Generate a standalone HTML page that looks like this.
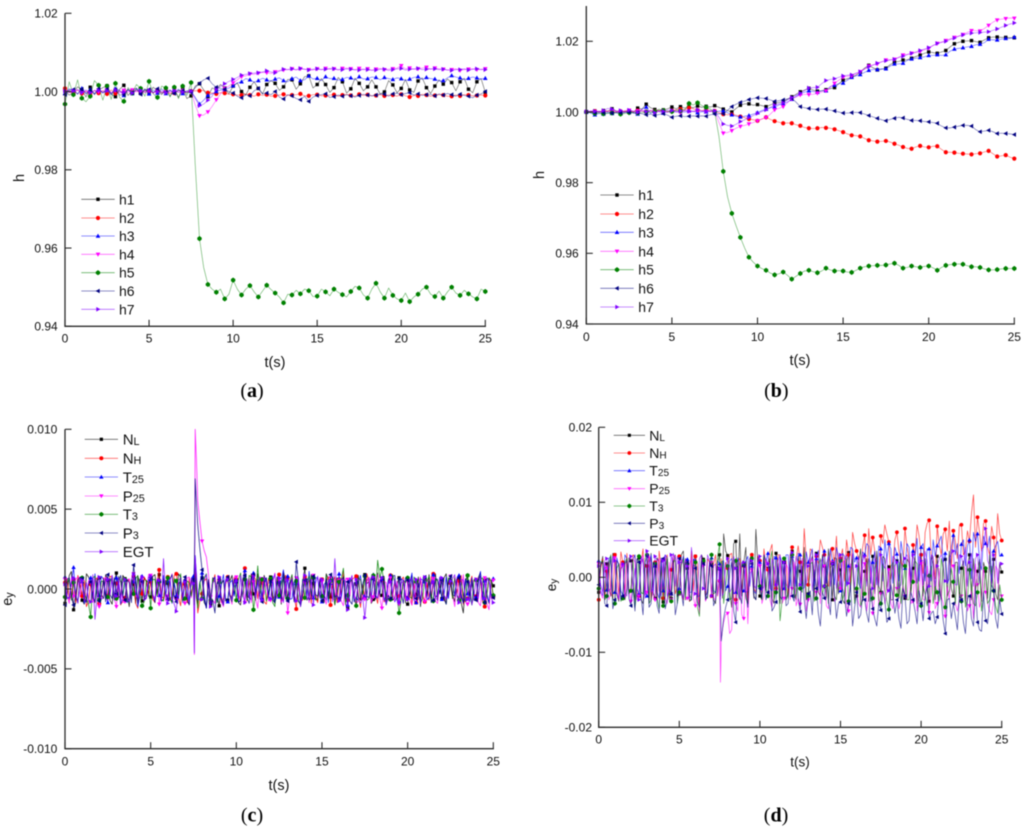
<!DOCTYPE html>
<html lang="en">
<head>
<meta charset="utf-8">
<title>Four-panel h and e_y charts</title>
<style>
html,body{margin:0;padding:0;background:#fff;width:1024px;height:830px;overflow:hidden}
svg{display:block;filter:blur(0.4px)}
text{font-family:"Liberation Sans",Arial,sans-serif;fill:#111}
.cap{font-family:"Liberation Serif","Times New Roman",serif;fill:#000}
</style>
</head>
<body>
<svg id="figure" width="1024" height="830" viewBox="0 0 1024 830" xmlns="http://www.w3.org/2000/svg"></svg>
<script>
/* ---------- shared axis data ---------- */
const tTicks = [0, 5, 10, 15, 20, 25];
const hTicksLabels = ['0.94', '0.96', '0.98', '1.00', '1.02'];
const hTicks = [0.94, 0.96, 0.98, 1.00, 1.02];
const eTicksC = [-0.010, -0.005, 0, 0.005, 0.010];
const eLabelsC = ['-0.010', '-0.005', '0.000', '0.005', '0.010'];
const eTicksD = [-0.02, -0.01, 0, 0.01, 0.02];
const eLabelsD = ['-0.02', '-0.01', '0.00', '0.01', '0.02'];
const hNames = ['h1', 'h2', 'h3', 'h4', 'h5', 'h6', 'h7'];
const eMain = ['N', 'N', 'T', 'P', 'T', 'P', 'EGT'];
const eSub = ['L', 'H', '25', '25', '3', '3', ''];
const seriesColors = ['#000000', '#ff0000', '#0000ff', '#ff00ff', '#008000', '#000080', '#8000ff'];

/* sample times: panels a and b */
const timesH = [
0,.25,.5,.75,1,1.25,1.5,1.75,2,2.25,
2.5,2.75,3,3.25,3.5,3.75,4,4.25,4.5,4.75,
5,5.25,5.5,5.75,6,6.25,6.5,6.75,7,7.25,
7.5,7.75,8,8.25,8.5,8.75,9,9.25,9.5,9.75,
10,10.25,10.5,10.75,11,11.25,11.5,11.75,12,12.25,
12.5,12.75,13,13.25,13.5,13.75,14,14.25,14.5,14.75,
15,15.25,15.5,15.75,16,16.25,16.5,16.75,17,17.25,
17.5,17.75,18,18.25,18.5,18.75,19,19.25,19.5,19.75,
20,20.25,20.5,20.75,21,21.25,21.5,21.75,22,22.25,
22.5,22.75,23,23.25,23.5,23.75,24,24.25,24.5,24.75,
25];
/* sample times: panels c and d (a *_m array holds the reading midway between two of these) */
const timesE = [
0,.25,.5,.75,1,1.25,1.5,1.75,2,2.25,
2.5,2.75,3,3.25,3.5,3.75,4,4.25,4.5,4.75,
5,5.25,5.5,5.75,6,6.25,6.5,6.75,7,7.25,
7.5,7.55,7.6,7.75,8,8.25,8.5,8.75,9,9.25,
9.5,9.75,10,10.25,10.5,10.75,11,11.25,11.5,11.75,
12,12.25,12.5,12.75,13,13.25,13.5,13.75,14,14.25,
14.5,14.75,15,15.25,15.5,15.75,16,16.25,16.5,16.75,
17,17.25,17.5,17.75,18,18.25,18.5,18.75,19,19.25,
19.5,19.75,20,20.25,20.5,20.75,21,21.25,21.5,21.75,
22,22.25,22.5,22.75,23,23.25,23.5,23.75,24,24.25,
24.5,24.75,25];

/* ---------- panel a: h deviation from 1, in units of 0.0001 ---------- */
const a_h1 = [
2,-9,-3,12,5,-14,11,-8,4,10,
15,-7,-13,6,16,-10,3,9,-5,7,
-4,11,2,-8,6,-12,5,-15,8,-18,
-11,14,20,4,-13,9,5,18,9,-6,
14,22,0,-9,11,25,8,-6,18,28,
21,3,12,31,30,6,20,38,40,9,
18,33,18,-2,10,36,25,-4,7,34,
21,2,12,30,12,-6,-1,28,17,-3,
8,31,4,-2,27,35,10,-5,14,30,
19,32,23,2,25,34,6,-3,25,33,
-2];
const a_h2 = [
8,-2,-3,4,-5,1,-6,3,-4,2,
-6,4,-5,2,-3,5,-2,3,-4,1,
2,-4,3,-3,2,-5,-4,3,-1,-2,
1,2,2,3,-3,-4,-6,-3,-4,-7,
-7,-9,-9,-6,-9,-12,-7,-10,-8,-12,
-11,-9,-7,-10,-9,-8,-6,-11,-11,-8,
-8,-11,-10,-9,-8,-12,-9,-7,-10,-12,
-7,-10,-8,-11,-10,-8,-11,-9,-9,-12,
-7,-11,-14,-10,-11,-7,-9,-12,-10,-8,
-9,-12,-12,-9,-11,-8,-9,-11,-10,-9,
-10];
const a_h3 = [
-5,7,3,-6,8,-4,5,-7,6,-3,
4,-8,7,3,-10,6,-5,8,-3,5,
-6,4,-4,7,-5,3,-3,6,-5,2,
1,-15,-32,-22,-10,-6,0,4,5,9,
15,22,25,33,30,24,28,34,30,27,
32,35,28,25,33,37,28,30,40,32,
34,28,38,33,34,29,31,36,35,30,
38,32,33,37,36,30,36,33,31,35,
33,28,32,36,38,31,36,33,32,27,
28,35,41,37,35,30,34,37,35,32,
34];
const a_h4 = [
0,3,-2,4,-3,2,-4,3,-1,2,
5,-3,2,-4,3,-2,4,-1,2,-3,
2,-4,3,-2,1,-3,2,-2,3,-1,
0,-35,-62,-60,-52,-38,-21,-6,8,14,
22,30,38,40,45,44,47,49,48,46,
50,54,55,56,58,55,58,57,56,55,
58,56,59,57,58,55,59,60,58,56,
59,56,58,55,57,59,56,57,58,60,
66,58,60,57,58,60,62,57,60,58,
57,55,56,58,54,56,57,58,56,57,
58];
const a_h5 = [
-32,25,-8,30,-17,-26,-12,28,16,-22,
14,-20,21,-15,-25,10,-4,18,8,-12,
26,-6,-15,14,9,-14,11,-18,14,-10,
23,-190,-376,-450,-493,-505,-513,-505,-530,-518,
-482,-505,-520,-505,-496,-512,-525,-510,-495,-506,
-515,-525,-540,-518,-520,-508,-517,-505,-509,-524,
-523,-505,-512,-522,-505,-513,-519,-525,-511,-498,
-502,-520,-528,-505,-490,-512,-528,-502,-521,-530,
-534,-515,-537,-525,-518,-505,-500,-518,-524,-510,
-528,-512,-500,-515,-521,-508,-517,-525,-530,-505,
-511];
const a_h6 = [
-8,4,5,-7,6,-6,3,-5,7,-3,
6,-6,4,-9,-8,5,-4,6,-7,4,
5,-3,7,-4,-2,4,-5,3,2,-3,
-2,10,21,30,34,20,11,8,6,0,
-4,-12,-16,-8,-11,2,8,-6,-4,-8,
0,-14,-19,-8,-11,-18,-21,-12,-25,-14,
-10,-8,-6,-15,-13,-9,-12,-8,-11,-14,
-10,-7,-9,-11,-9,-6,-7,-12,-6,-4,
-8,-5,-3,-9,-6,-10,-8,-7,-11,-6,
-9,-5,-8,-12,-7,-10,-12,-16,-9,-6,
0];
const a_h7 = [
1,-3,2,5,-2,4,-3,2,3,-4,
2,-3,4,-1,-2,3,-4,2,3,-2,
3,-2,-1,2,-3,1,2,-2,-1,1,
1,-18,-36,-32,-22,-12,5,13,20,26,
31,36,42,44,46,47,48,50,53,50,
48,52,57,56,58,56,59,57,55,57,
58,56,57,59,58,56,56,58,57,55,
55,57,56,54,55,57,57,54,56,58,
59,55,57,58,59,56,57,58,58,56,
57,55,54,56,56,58,55,57,58,56,
56];

/* ---------- panel b: h deviation from 1, in units of 0.0001 ---------- */
const b_h1 = [
0,1,3,0,4,2,9,3,0,2,
3,-1,11,8,22,12,7,4,6,9,
14,9,15,11,14,12,17,13,16,14,
18,13,8,4,0,10,19,23,23,19,
21,18,15,20,25,27,29,36,43,50,
57,62,67,62,59,60,63,66,69,80,
90,94,98,104,113,124,132,125,119,121,
124,134,141,143,147,148,152,157,161,166,
170,168,166,170,174,184,193,197,200,201,
202,199,197,204,210,212,212,211,211,210,
210];
const b_h2 = [
0,1,2,0,1,3,1,0,2,1,
3,1,4,2,1,3,2,4,3,1,
4,6,8,6,12,9,5,4,6,3,
3,-2,-6,-8,-7,-9,-13,-16,-20,-22,
-25,-20,-15,-21,-26,-29,-32,-31,-32,-36,
-39,-44,-46,-47,-46,-44,-45,-46,-49,-53,
-57,-62,-66,-67,-69,-75,-80,-82,-84,-83,
-82,-85,-90,-94,-99,-103,-104,-99,-96,-99,
-100,-97,-97,-106,-114,-114,-115,-117,-118,-119,
-120,-118,-117,-113,-110,-118,-126,-124,-122,-128,
-132];
const b_h3 = [
0,-3,-8,-4,-6,-3,-4,-2,-5,-1,
2,-3,-6,8,14,-4,2,1,-3,-1,
3,1,2,0,3,2,-2,1,0,2,
0,2,3,-2,-8,-12,-14,-12,-10,-6,
-2,4,8,12,14,20,24,28,36,44,
52,56,60,58,56,60,60,72,76,80,
82,90,98,102,106,112,118,120,120,122,
122,130,136,136,138,146,150,152,154,156,
160,160,162,160,162,172,178,180,182,184,
186,190,192,196,206,204,204,206,208,208,
212];
const b_h4 = [
0,2,1,3,-1,2,3,1,0,4,
5,2,3,6,0,5,2,1,3,-1,
2,3,-3,4,1,2,4,3,2,1,
2,-30,-60,-58,-53,-46,-41,-38,-34,-30,
-25,-20,-16,-6,6,10,15,26,37,42,
48,50,49,50,53,56,60,70,81,90,
98,101,102,108,114,122,130,133,136,142,
147,148,149,155,161,163,166,168,171,176,
180,188,194,198,202,207,211,215,219,225,
230,230,229,236,245,254,260,263,264,266,
265];
const b_h5 = [
0,-2,-4,-3,-5,-4,-3,-2,-6,-4,
-2,-1,-3,-2,0,-1,1,8,4,2,
1,5,3,6,24,20,26,18,13,8,
0,-70,-168,-240,-287,-322,-355,-385,-411,-425,
-436,-443,-448,-456,-461,-458,-453,-462,-473,-465,
-457,-450,-448,-452,-455,-450,-442,-447,-450,-449,
-450,-453,-454,-448,-442,-438,-436,-435,-434,-434,
-433,-430,-428,-434,-442,-440,-436,-438,-440,-437,
-436,-441,-448,-440,-434,-432,-431,-430,-431,-435,
-438,-438,-440,-444,-447,-447,-446,-444,-443,-443,
-443];
const b_h6 = [
0,-1,-2,1,-2,0,-3,-1,-2,-1,
-1,-3,-2,-5,-8,-6,-10,-7,-5,-9,
-15,-12,-11,-13,-12,-11,-12,-11,-12,-8,
-6,-5,-5,5,15,22,27,31,35,38,
40,39,38,34,30,32,34,37,39,28,
15,12,10,8,7,8,8,5,3,0,
-3,-3,-2,-1,-2,-6,-10,-14,-18,-22,
-25,-21,-18,-15,-17,-21,-24,-24,-25,-27,
-28,-30,-32,-40,-45,-45,-43,-40,-38,-38,
-40,-50,-56,-54,-52,-56,-61,-60,-61,-62,
-64];
const b_h7 = [
1,3,2,-1,4,10,8,2,4,-1,
5,2,-1,3,1,4,-2,3,2,5,
4,-1,3,5,2,1,6,3,2,4,
3,-15,-34,-38,-40,-35,-27,-22,-16,-10,
-4,1,6,13,20,23,26,34,41,47,
53,61,68,69,70,80,89,92,94,98,
102,104,105,110,114,121,128,133,138,142,
145,147,149,154,158,162,166,170,174,178,
182,188,194,197,200,205,209,214,218,221,
223,224,225,226,227,231,235,240,245,249,
252];

/* ---------- panel c: e_y in units of 0.00001 ---------- */
const c_NL = [
-90,85,-130,60,-70,95,40,-85,70,-60,
55,-95,100,-40,65,-110,30,80,-75,45,
-50,90,90,-65,35,-85,-60,75,50,-95,
40,-60,130,-90,70,-110,-95,60,-105,55,
-70,85,45,-100,60,-55,-30,95,-65,40,
75,-90,30,110,-60,70,50,-85,130,-45,
35,-75,60,95,-50,-100,40,80,-120,55,
30,-70,90,45,-65,100,-40,-85,60,-55,
70,50,-95,85,-35,-110,60,90,40,-75,
-60,95,45,-80,70,-150,85,40,-65,105,
55,-90,20];
const c_NL_m = [
-40,110,-85,30,-95,75,-60,50,-35,90,
-70,45,-55,85,-25,60,-90,35,70,-45,
80,-30,-75,55,-60,40,95,-50,-80,65,
-30,45,-50,40,-85,55,70,-40,30,-75,
50,-35,-85,65,-45,95,-70,40,85,-60,
-40,75,-95,50,30,-65,-80,45,-70,90,
-55,40,-85,60,30,70,-45,-95,50,-35,
85,-60,35,-90,40,-45,80,55,-70,30,
-50,-85,40,-60,75,45,-40,-65,95,30,
70,-55,-35,60,-85,50,-60,-30,70,-45,
-40,55];
const c_NH = [
40,-70,60,85,-45,-110,30,55,-90,70,
-40,75,35,-100,-55,60,80,-120,-30,50,
45,-85,120,-60,75,-40,95,-105,30,70,
45,-70,110,-150,-30,65,-75,90,55,-60,
75,-45,60,-80,130,50,85,-60,40,-95,
60,-50,90,-75,70,80,-125,-65,75,55,
70,-85,60,45,-100,75,60,110,-70,60,
80,-115,-55,35,70,-90,55,-60,85,40,
-45,75,-55,-100,-85,65,-80,-70,95,-40,
60,-85,35,75,50,-95,-60,80,-45,55,
-110,70,-50];
const c_NH_m = [
65,-35,-85,40,55,-75,-30,70,-50,-45,
80,-60,30,-75,45,-40,-90,60,75,-30,
-65,50,-45,35,-70,85,-55,40,-85,-35,
60,-50,40,-70,50,-40,35,-65,-85,30,
-45,70,-30,55,-75,-40,60,45,-80,65,
-55,40,-35,85,-60,-35,50,-70,30,-90,
-45,60,-30,75,45,-85,-35,-60,50,70,
-40,30,95,-55,-35,60,-80,45,-45,-65,
55,-45,60,35,-60,-40,40,75,-50,30,
-70,45,-60,-30,85,-65,35,-45,60,-80,
-30,45];
const c_T25 = [
75,-50,135,-80,45,-60,70,95,-40,60,
-85,40,70,-95,55,-60,45,-110,80,-35,
60,-70,-40,85,50,-90,-40,65,55,-75,
80,150,210,-70,100,-120,-60,75,-45,90,
-80,55,60,-75,115,-50,100,35,-60,70,
45,-85,-50,120,80,-60,35,-95,50,110,
-55,70,-80,45,35,-75,95,60,-100,40,
-60,85,-45,70,90,-55,60,-40,85,-80,
-75,50,-55,100,-85,65,45,-60,90,-35,
-65,75,55,-40,85,-90,-30,70,-50,110,
50,-85,65];
const c_T25_m = [
-60,45,-40,70,-90,35,-55,-45,80,-30,
65,-70,30,-50,-85,45,75,-40,-55,60,
-35,55,-75,-45,70,40,-60,-85,30,50,
45,190,60,40,-60,40,55,-85,30,-65,
40,-45,-80,60,-30,-70,-40,75,30,-55,
80,-35,55,-40,-65,45,-75,60,-45,-30,
70,-50,30,-85,65,-35,-60,-45,70,-80,
40,-35,55,-60,-45,35,-70,60,-30,-50,
65,-40,35,-70,-30,55,-65,40,-55,75,
-35,-60,45,70,-30,60,-80,-45,35,-70,
-30,40];
const c_P25 = [
60,-90,-45,75,65,-80,40,70,-110,55,
-60,85,-110,50,-80,65,95,-70,70,-40,
85,-55,-95,60,-45,95,-70,50,-90,75,
40,-410,1000,550,300,200,-50,-90,70,-110,
60,-95,75,-50,-85,70,45,-120,65,50,
-70,100,60,-55,-150,85,70,-100,40,-85,
85,-60,45,-95,70,-75,55,-105,60,80,
-85,55,-65,75,-50,90,-120,40,70,-75,
-95,60,45,-100,-65,75,-80,55,65,-90,
50,-70,80,-110,-55,90,-95,40,60,-105,
70,-130,55];
const c_P25_m = [
-45,70,60,-50,-70,55,-85,30,-40,75,
-35,-60,40,-85,55,-45,-35,60,-75,90,
-40,65,-30,-75,50,-60,35,-45,70,-55,
-120,300,800,420,240,90,-70,40,-80,35,
-50,75,-45,60,30,-85,-60,70,-35,-75,
40,-55,-85,35,-40,-70,55,-35,60,45,
-35,70,-55,40,-60,30,-75,65,-45,-30,
60,-40,50,-85,55,-60,45,-75,-35,50,
-30,-65,-70,50,40,-55,60,-35,-75,65,
-45,55,-40,70,-30,-75,-50,55,-85,45,
-90,40];
const c_T3 = [
-50,65,40,-85,70,-60,-175,80,-70,45,
-50,75,-60,45,60,-90,-30,85,-105,55,
-120,60,45,-75,70,-85,50,95,-60,40,
55,-100,80,-120,-60,95,-70,45,40,-90,
60,-80,-70,100,60,85,-130,145,60,-75,
65,-110,-40,75,-60,90,50,-105,-55,80,
70,-60,-45,85,50,-95,45,130,-40,60,
-105,60,80,-60,85,180,125,-70,-65,40,
-150,55,70,-60,45,-90,65,80,-75,50,
60,-95,55,70,-70,-40,85,-100,55,60,
-85,70,-40];
const c_T3_m = [
40,-70,-45,60,-30,-95,70,-55,50,-60,
45,-50,80,-35,-70,55,65,-40,-80,35,
60,-45,-70,30,-60,65,-35,-75,50,-45,
-50,30,-60,45,70,-30,60,-85,-55,50,
-45,40,60,-50,-70,75,-35,-45,65,-30,
-85,55,35,-60,45,-35,-75,60,50,-40,
-70,35,-50,-65,75,-30,60,-85,40,-55,
65,-35,-70,50,-45,70,35,-60,90,-40,
-65,40,-50,75,-35,-60,45,-40,65,-30,
-45,70,-60,-35,50,-80,-30,60,-45,70,
-35,50];
const c_P3 = [
-100,70,-100,55,65,-85,45,-75,-75,60,
90,-60,-30,85,-70,40,150,-90,45,-55,
70,-85,50,65,-65,90,-80,45,75,-100,
60,150,690,400,120,-120,-85,-150,60,-100,
75,-60,45,-70,85,-90,90,60,-80,70,
50,-85,40,95,-75,60,170,-110,55,-70,
80,-45,-75,65,90,-50,-60,75,45,-95,
40,-70,85,-55,60,45,70,-100,-60,85,
65,-90,55,70,-60,-80,75,50,-70,60,
55,-95,80,-45,70,-85,45,60,-70,80,
-85,60,-55];
const c_P3_m = [
60,-50,-40,75,-60,30,-55,60,-40,-80,
-35,70,50,-45,60,-85,40,65,-70,30,
-40,55,-75,-30,60,-45,35,-70,-55,70,
-60,320,540,250,-30,60,-70,35,-65,50,
-35,60,-85,40,-55,70,-30,-60,45,-40,
-70,50,-60,-35,40,-80,45,-30,65,-50,
-35,60,-55,-45,70,-40,55,-60,-75,40,
-50,30,-45,75,-65,-35,50,-40,80,-55,
-30,70,-45,-60,35,40,-55,-85,65,-30,
-60,40,-35,60,-50,65,-45,-70,55,-35,
70,-30];
const c_EGT = [
30,-60,70,-90,55,40,-80,-190,75,-50,
60,85,-45,-70,60,-85,90,-55,75,-60,
80,-70,55,190,-90,-60,-140,70,45,-85,
35,-400,200,-50,-65,90,-110,60,75,-95,
60,-75,50,85,-85,-60,80,55,-70,45,
-60,95,70,-85,55,60,-75,-110,85,-45,
-100,80,60,-70,50,190,-75,60,-130,85,
60,-90,-180,50,75,-60,70,-95,45,60,
-85,55,-65,70,60,-90,75,-50,45,-70,
70,-60,50,90,-85,55,-65,-100,60,75,
-60,45,-85];
const c_EGT_m = [
-55,45,-30,65,-60,-70,90,-40,-65,60,
-35,-45,75,40,-55,65,-30,45,-70,75,
-45,60,-80,-40,70,-95,55,-60,-35,70,
-150,-80,90,-70,55,-40,35,-60,-45,60,
-30,45,-70,-40,65,55,-60,-35,75,-55,
50,-45,-30,65,-60,-35,70,40,-65,60,
35,-55,-35,60,-80,-45,60,50,40,-60,
-70,-50,-40,70,-35,55,-60,40,-30,-75,
35,-45,60,-65,-30,50,-70,45,-55,70,
-40,-35,65,-45,60,-75,45,-40,-60,-35,
65,-55];

/* ---------- panel d: e_y in units of 0.0001 ---------- */
const d_NL = [
-20,28,18,-25,30,-32,18,-15,22,-30,
26,-35,15,32,-28,20,-33,25,-28,30,
-22,35,12,-30,28,-38,24,-20,18,-35,
30,-25,20,58,29,-40,48,58,19,-30,
26,64,-25,30,12,-28,32,-35,20,-20,
35,-30,8,40,-22,28,32,-25,15,38,
-30,25,10,-35,33,30,-25,38,8,-32,
28,35,-20,25,14,-30,22,32,-28,20,
12,-35,30,25,-32,18,28,-30,24,35,
-25,20,12,-35,30,25,8,-32,8,30,
24,-30,7];
const d_NL_m = [
14,-28,-15,32,-24,10,-30,26,-12,24,
-30,18,-34,-20,26,-28,12,-22,16,-26,
30,-15,-32,22,-18,30,-25,15,-30,20,
-15,10,-28,35,-20,45,-15,-25,40,20,
-28,15,-30,-18,25,-35,18,22,-30,15,
-22,28,-12,-30,18,-25,-20,30,-28,12,
26,-22,-30,18,-15,-28,20,-32,25,12,
-22,-12,28,-18,-30,15,-28,-15,24,-20,
28,15,-25,-18,28,-30,-12,22,-25,-15,
20,-28,22,15,-30,-18,24,20,-28,-12,
-22,18];
const d_NH = [
-30,25,8,-20,30,-25,20,32,-18,28,
-25,38,15,-30,20,35,-28,30,10,-22,
28,-30,18,35,28,-45,20,25,-25,30,
-5,-20,25,-15,12,32,-30,25,15,-35,
30,-20,22,38,10,44,-15,30,20,-25,
40,25,20,65,-10,35,28,50,30,-12,
38,55,25,-5,30,60,35,-8,56,65,
53,10,55,70,47,15,60,20,65,25,
43,70,30,60,76,25,68,30,64,75,
62,25,70,35,48,110,80,35,75,30,
53,85,49];
const d_NH_m = [
12,-30,22,-28,10,34,-22,-18,30,-20,
18,-24,28,-14,-30,15,20,-28,28,-12,
-20,22,-32,-18,18,15,-30,20,18,-25,
10,5,-22,20,30,-28,22,-20,18,25,
-15,28,-20,15,35,-10,30,-18,22,30,
-8,42,-5,22,38,-5,18,40,-8,30,
18,-5,38,50,-8,45,25,40,-5,30,
35,-8,45,58,-2,50,35,15,40,-5,
30,55,5,72,30,-2,45,58,35,12,
48,70,30,62,85,40,60,72,40,68,
25,58];
const d_T25 = [
22,-25,-17,28,-20,15,-24,25,-18,30,
-22,20,-25,30,15,-28,-18,26,-22,24,
-15,28,24,-20,22,-25,18,-16,26,-20,
18,10,-15,22,-12,25,-20,15,-18,28,
15,-22,20,30,32,-18,26,28,-15,30,
28,-12,30,-14,20,38,25,-20,35,18,
22,40,-18,28,15,38,26,-15,30,42,
20,-10,38,50,45,-8,31,48,12,40,
35,52,40,-5,38,50,42,55,32,-2,
56,45,44,15,50,60,58,10,45,55,
35,48,30];
const d_T25_m = [
-18,20,25,-22,26,-18,30,-20,24,-15,
28,-20,18,-24,-20,26,30,-18,32,-20,
18,-25,-20,24,-26,16,-28,20,-18,22,
-10,-12,18,-18,22,-22,26,-18,22,-12,
-18,26,-12,22,-15,28,-10,20,30,-12,
20,32,-15,34,28,-12,36,22,-8,38,
-10,28,32,-12,40,20,-8,34,45,-8,
35,42,-5,25,38,40,-5,30,45,-2,
28,-5,45,38,-5,28,48,20,-8,40,
30,5,50,42,-2,48,22,55,40,-5,
42,28];
const d_P25 = [
18,-28,12,-22,26,-30,15,22,-32,20,
-25,30,-20,18,-30,25,22,-35,-30,28,
-22,18,-28,25,-38,-48,15,-25,20,-30,
-5,-140,-85,-60,-48,-70,-35,20,-55,-62,
10,-30,15,-25,18,-40,-18,22,-28,12,
-15,-38,-36,18,-30,25,-20,-35,15,-42,
20,-28,-15,22,-45,12,-18,-40,18,-25,
-48,15,-22,-35,10,-42,-15,-30,-25,12,
-32,-45,18,-30,-47,10,-35,-25,-52,-30,
15,-45,-25,12,-38,-55,-10,-30,-20,-45,
-30,10,-25];
const d_P25_m = [
-22,20,-30,24,-20,18,-28,-18,25,-30,
22,-24,30,-25,22,-18,-28,20,30,-22,
24,-30,18,-28,-15,25,-32,22,-28,18,
-60,-120,-70,-50,-75,20,-45,-50,15,5,
-25,20,-35,22,-30,15,-10,-35,18,-30,
20,-28,22,-45,20,-30,18,15,-38,12,
-32,15,20,-40,18,-30,-35,12,-45,15,
-25,-38,12,-20,-35,15,-42,-10,-30,-35,
15,-25,-30,15,-20,-42,12,-35,-12,15,
-35,-30,15,-45,-18,18,-40,15,-35,-50,
15,-35];
const d_T3 = [
-15,22,-25,30,-35,18,-28,25,-18,-40,
28,-22,30,-30,18,-42,-38,25,-32,22,
-20,25,18,-30,20,-52,22,-28,30,-20,
44,-25,20,-35,15,-28,22,-30,16,-35,
25,-30,-12,28,-25,35,-20,-58,25,-28,
30,-22,-15,32,-25,20,-28,25,-12,-35,
18,-30,22,-20,-32,28,-15,-38,-22,25,
-28,22,-35,-15,-43,20,-24,-35,15,-30,
-6,18,-38,-22,2,-35,-20,25,-40,-18,
-6,15,-32,-40,10,-35,-20,-45,12,-30,
-18,-48,-30];
const d_T3_m = [
20,-30,18,-28,12,-32,20,-22,24,-18,
-20,25,-35,20,-28,15,-25,-30,22,-35,
16,-30,-22,18,-40,20,-25,15,-22,28,
-10,-15,22,-12,-30,18,-22,15,-28,20,
-25,12,-30,-15,22,-30,18,-30,-12,20,
-28,15,-20,-30,18,-32,15,-22,20,12,
-25,18,-30,25,-12,-35,20,-28,15,-32,
12,-30,18,-32,15,-25,20,-12,-30,-10,
22,-30,-12,-38,15,-12,-32,10,-25,12,
-35,-15,20,-30,-12,-38,18,-22,-35,15,
-38,-10];
const d_P3 = [
-10,20,-38,25,-30,18,-25,22,-38,-45,
20,-50,28,-35,15,-48,25,-30,-22,-50,
25,-38,20,-30,12,-40,18,-25,15,-30,
10,-40,-85,-55,-30,20,-60,-25,15,-40,
18,-30,-15,25,-20,-45,-33,-25,20,-35,
-25,15,-46,-30,-22,-50,-15,-65,-28,-30,
18,-55,-33,-25,-35,-65,-20,-50,-30,-60,
-42,-65,-44,-30,-55,-25,-30,-68,-25,-58,
-30,-62,-35,-25,-55,-45,-53,-30,-75,-28,
-35,-70,-30,-75,-25,-65,-60,-72,-58,-35,
-18,-68,-49];
const d_P3_m = [
18,-35,10,-42,22,-30,18,-28,-15,25,
-25,20,-40,20,-38,22,-42,-15,22,-35,
-20,25,-30,18,-32,22,-30,20,-38,15,
-30,-55,-70,-40,5,-45,15,-35,-20,25,
-25,15,-28,-30,15,-40,15,-30,-38,18,
-32,-28,15,-55,-18,10,-48,-20,15,-50,
-22,-35,-15,-52,-10,-40,-55,-25,-48,-15,
-55,-35,-18,-60,-10,-48,-55,-15,-62,-20,
-45,-18,-58,-12,-48,-62,-15,-58,-30,-55,
-52,-25,-60,-28,-55,-15,-70,-20,-62,-10,
-55,-30];
const d_EGT = [
15,-20,25,-15,22,-28,18,-25,28,12,
-30,25,35,-20,28,-18,22,-25,30,-12,
20,-28,15,40,-22,25,-15,30,-25,18,
12,-30,18,-20,25,-15,12,-28,20,-18,
22,-15,28,-12,18,25,-10,30,20,-15,
33,28,-10,25,15,-18,30,20,-12,28,
18,-15,30,22,-8,32,15,-12,28,25,
-15,22,30,12,-18,28,20,-10,25,18,
30,-8,22,35,-12,28,15,30,-5,25,
35,-10,28,40,20,-12,30,38,65,15,
30,-8,18];
const d_EGT_m = [
-10,22,-18,28,-20,12,-22,20,-15,-25,
18,-28,20,-15,22,-25,30,-18,15,28,
-18,25,-30,18,-22,30,-18,22,15,-24,
-15,10,-25,15,-20,28,-15,20,-20,25,
-10,18,-18,25,-15,12,22,-15,-8,30,
-12,18,25,-10,28,15,-15,25,18,-12,
22,15,-18,30,12,-15,28,22,-12,20,
25,-12,18,28,-10,25,-15,22,30,-8,
18,28,-10,22,30,-12,25,18,-8,32,
-10,30,15,-12,32,25,-8,40,22,-10,
25,20];

/* ---------- drawing ---------- */
const NS = 'http://www.w3.org/2000/svg';
const root = document.getElementById('figure');

function mk(tag, parent, attrs) {
  const node = document.createElementNS(NS, tag);
  for (const k in attrs) node.setAttribute(k, attrs[k]);
  parent.appendChild(node);
  return node;
}

function markerShape(parent, kind, cx, cy, color, s) {
  let node;
  const pts = arr => arr.map(p => (cx + p[0] * s).toFixed(2) + ',' + (cy + p[1] * s).toFixed(2)).join(' ');
  if (kind === 0) node = mk('rect', parent, {x: cx - 1.7 * s, y: cy - 1.7 * s, width: 3.4 * s, height: 3.4 * s, fill: color});
  else if (kind === 1) node = mk('circle', parent, {cx: cx, cy: cy, r: 2.1 * s, fill: color});
  else if (kind === 2) node = mk('polygon', parent, {points: pts([[0, -2.4], [2.3, 1.7], [-2.3, 1.7]]), fill: color});
  else if (kind === 3) node = mk('polygon', parent, {points: pts([[0, 2.4], [2.3, -1.7], [-2.3, -1.7]]), fill: color});
  else if (kind === 4) node = mk('polygon', parent, {points: pts([[0, -2.6], [2.2, -1], [2.2, 1], [0, 2.6], [-2.2, 1], [-2.2, -1]]), fill: color});
  else if (kind === 5) node = mk('polygon', parent, {points: pts([[-2.4, 0], [1.7, -2.3], [1.7, 2.3]]), fill: color});
  else node = mk('polygon', parent, {points: pts([[2.4, 0], [-1.7, -2.3], [-1.7, 2.3]]), fill: color});
  return node;
}

function drawPanel(p) {
  const g = mk('g', root, {});
  
  

  const xOf = t => p.x0 + (t - 0) / 25 * (p.x1 - p.x0);
  const yOf = v => p.yA + (v - p.vA) / (p.vB - p.vA) * (p.yB - p.yA);
  const ptStr = (t, v) => xOf(t).toFixed(2) + ',' + yOf(p.base + v * p.unit).toFixed(2);

  /* series */
  p.series.forEach((vals, s) => {
    const color = seriesColors[s];
    const mids = p.mids ? p.mids[s] : null;
    const sg = mk('g', g, {});
    
    
    const parts = [];
    vals.forEach((v, i) => {
      parts.push(ptStr(p.times[i], v));
      if (mids && i < vals.length - 1 && mids[i] !== undefined) {
        parts.push(ptStr((p.times[i] + p.times[i + 1]) / 2, mids[i]));
      }
    });
    const line = mk('polyline', sg, {points: parts.join(' '), fill: 'none', stroke: color, 'stroke-width': p.lw, 'stroke-opacity': p.lo, 'stroke-linejoin': 'round'});
    
    
    vals.forEach((v, i) => {
      const t = p.times[i];
      if (Math.abs(t * 2 - Math.round(t * 2)) > 1e-9) return;
      const m = markerShape(sg, s, xOf(t), yOf(p.base + v * p.unit), color, p.ms);
      
      
    });
  });

  /* axes */
  const axisColor = '#2b2b2b';
  const yAxis = mk('line', g, {x1: p.x0, x2: p.x0, y1: yOf(p.vTop), y2: yOf(p.vBottom), stroke: axisColor, 'stroke-width': 1.3});
  
  
  const xAxis = mk('line', g, {x1: p.x0 - 0.6, x2: p.x1 + 0.6, y1: yOf(p.vBottom), y2: yOf(p.vBottom), stroke: axisColor, 'stroke-width': 1.3});
  
  

  tTicks.forEach(t => {
    const tick = mk('line', g, {x1: xOf(t), x2: xOf(t), y1: yOf(p.vBottom), y2: yOf(p.vBottom) - 6.5, stroke: axisColor, 'stroke-width': 1.1});
    
    
    const lab = mk('text', g, {x: xOf(t), y: p.xLabelY + 4.3, 'text-anchor': 'middle', 'font-size': 12});
    
    
    lab.textContent = String(t);
  });
  p.yTicks.forEach((v, i) => {
    const tick = mk('line', g, {x1: p.x0, x2: p.x0 + 6.5, y1: yOf(v), y2: yOf(v), stroke: axisColor, 'stroke-width': 1.1});
    
    
    const lab = mk('text', g, {x: p.yLabelX, y: yOf(v) + p.yLabelDy, 'text-anchor': 'end', 'font-size': 12});
    
    
    lab.textContent = p.yLabels[i];
  });

  /* axis titles */
  const xt = mk('text', g, {x: p.xTitle[0], y: p.xTitle[1] + 5, 'text-anchor': 'middle', 'font-size': p.titleSize});
  
  
  xt.textContent = 't(s)';
  const yt = mk('text', g, {transform: 'translate(' + (p.yTitle[0] + 4) + ',' + p.yTitle[1] + ') rotate(-90)', 'text-anchor': 'middle', 'font-size': p.titleSize});
  
  
  yt.textContent = p.yTitleMain;
  if (p.yTitleSub) {
    const ss = mk('tspan', yt, {'font-size': p.titleSize * 0.75, dy: 1});
    ss.textContent = p.yTitleSub;
  }

  /* legend */
  const lg = mk('g', g, {});
  
  
  p.legendY.forEach((ly, s) => {
    const entry = mk('g', lg, {});
    
    
    mk('line', entry, {x1: p.legendX[0], x2: p.legendX[1], y1: ly, y2: ly, stroke: seriesColors[s], 'stroke-width': 0.8, 'stroke-opacity': 0.6});
    markerShape(entry, s, (p.legendX[0] + p.legendX[1]) / 2, ly, seriesColors[s], p.ms);
    const label = mk('text', entry, {x: p.legendX[2], y: ly + p.legendSize * 0.36, 'font-size': p.legendSize});
    label.textContent = p.legendMain[s];
    if (p.legendSub[s]) {
      const sub = mk('tspan', label, {'font-size': p.legendSize * 0.72, dy: 0.5});
      sub.textContent = p.legendSub[s];
    }
  });

  /* caption */
  const cap = mk('text', g, {class: 'cap', x: p.caption[0], y: p.caption[1] + 6.5, 'text-anchor': 'middle', 'font-size': 20});
  
  
  mk('tspan', cap, {}).textContent = '(';
  mk('tspan', cap, {'font-weight': 'bold'}).textContent = p.id;
  mk('tspan', cap, {}).textContent = ')';
}

drawPanel({
  id: 'a', x0: 65, x1: 485.3, yA: 326.3, vA: 0.94, yB: 13.3, vB: 1.02, vTop: 1.02, vBottom: 0.94,
  times: timesH, series: [a_h1, a_h2, a_h3, a_h4, a_h5, a_h6, a_h7], names: hNames, base: 1, unit: 1e-4,
  lw: 0.7, lo: 0.55, ms: 1, yTicks: hTicks, yLabels: hTicksLabels, yLabelX: 57.7, yLabelDy: 4.3, xLabelY: 338,
  xTitle: [275, 362], yTitle: [20, 178], yTitleMain: 'h', yTitleSub: '', titleSize: 14.5,
  legendX: [81.3, 114.7, 119], legendY: [199.3, 218, 236, 254.3, 272.7, 291, 309.3], legendSize: 14,
  legendMain: hNames, legendSub: ['', '', '', '', '', '', ''], caption: [252, 390.7]
});
drawPanel({
  id: 'b', x0: 586.3, x1: 1014.3, yA: 324, vA: 0.94, yB: 41.3, vB: 1.02, vTop: 1.03, vBottom: 0.94,
  times: timesH, series: [b_h1, b_h2, b_h3, b_h4, b_h5, b_h6, b_h7], names: hNames, base: 1, unit: 1e-4,
  lw: 0.7, lo: 0.55, ms: 1, yTicks: hTicks, yLabels: hTicksLabels, yLabelX: 578.7, yLabelDy: 4.3, xLabelY: 336.7,
  xTitle: [800, 360], yTitle: [540, 175], yTitleMain: 'h', yTitleSub: '', titleSize: 14.5,
  legendX: [600.3, 633.7, 638.3], legendY: [195, 214, 232.3, 251.3, 269.7, 288.3, 307], legendSize: 14,
  legendMain: hNames, legendSub: ['', '', '', '', '', '', ''], caption: [776.3, 390.7]
});
drawPanel({
  id: 'c', x0: 65, x1: 493.3, yA: 748.7, vA: -0.01, yB: 429.3, vB: 0.01, vTop: 0.01, vBottom: -0.01,
  times: timesE, series: [c_NL, c_NH, c_T25, c_P25, c_T3, c_P3, c_EGT],
  mids: [c_NL_m, c_NH_m, c_T25_m, c_P25_m, c_T3_m, c_P3_m, c_EGT_m],
  names: ['NL', 'NH', 'T25', 'P25', 'T3', 'P3', 'EGT'], base: 0, unit: 1e-5,
  lw: 0.8, lo: 0.85, ms: 0.95, yTicks: eTicksC, yLabels: eLabelsC, yLabelX: 57.3, yLabelDy: 4.3, xLabelY: 761,
  xTitle: [279, 785], yTitle: [8, 599], yTitleMain: 'e', yTitleSub: 'y', titleSize: 14.5,
  legendX: [84.7, 118, 122.7], legendY: [439.3, 458.3, 477, 496, 514.3, 533, 551.7], legendSize: 15,
  legendMain: eMain, legendSub: eSub, caption: [252, 815]
});
drawPanel({
  id: 'd', x0: 598.7, x1: 1001.7, yA: 727.3, vA: -0.02, yB: 427.3, vB: 0.02, vTop: 0.02, vBottom: -0.02,
  times: timesE, series: [d_NL, d_NH, d_T25, d_P25, d_T3, d_P3, d_EGT],
  mids: [d_NL_m, d_NH_m, d_T25_m, d_P25_m, d_T3_m, d_P3_m, d_EGT_m],
  names: ['NL', 'NH', 'T25', 'P25', 'T3', 'P3', 'EGT'], base: 0, unit: 1e-4,
  lw: 0.7, lo: 0.75, ms: 0.9, yTicks: eTicksD, yLabels: eLabelsD, yLabelX: 592, yLabelDy: 4.3, xLabelY: 739,
  xTitle: [800, 761.7], yTitle: [552, 585], yTitleMain: 'e', yTitleSub: 'y', titleSize: 13.5,
  legendX: [613.7, 645, 649.3], legendY: [435.3, 453, 470.7, 488.7, 506, 523.3, 540.7], legendSize: 14,
  legendMain: eMain, legendSub: eSub, caption: [776, 815]
});
</script>
</body>
</html>
